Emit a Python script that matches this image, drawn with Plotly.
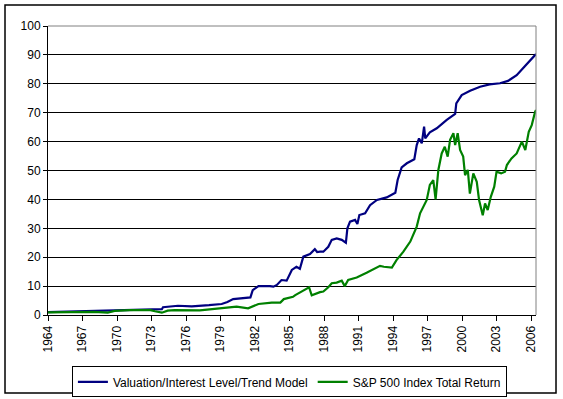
import plotly.graph_objects as go

model_years = [1964.0, 1965.0, 1966.3, 1967.5, 1969.0, 1970.0, 1971.0, 1971.5, 1973.0, 1973.9,
               1974.0, 1975.3, 1976.5, 1977.2, 1978.0, 1979.1, 1979.6, 1980.1, 1980.8, 1981.6,
               1981.8, 1982.3, 1983.3, 1983.6, 1983.9, 1984.3, 1984.75, 1985.2, 1985.6, 1985.9,
               1986.2, 1986.78, 1987.2, 1987.4, 1987.65, 1987.94, 1988.37, 1988.67, 1989.1, 1989.54,
               1989.9, 1990.03, 1990.26, 1990.7, 1990.9, 1991.07, 1991.57, 1992.0, 1992.6, 1993.45,
               1994.2, 1994.4, 1994.75, 1995.2, 1995.85, 1996.06, 1996.26, 1996.5, 1996.7, 1996.8,
               1997.2, 1997.8, 1998.67, 1999.4, 1999.5, 1999.97, 2000.7, 2001.57, 2002.4, 2003.3,
               2004.0, 2004.75, 2005.3, 2005.9, 2006.43]
model_values = [1.0, 1.1, 1.3, 1.4, 1.5, 1.7, 1.8, 2.0, 2.0, 2.0,
                2.7, 3.2, 3.0, 3.1, 3.4, 3.8, 4.5, 5.5, 5.8, 6.1,
                8.6, 10.0, 10.0, 9.8, 10.4, 12.1, 11.9, 15.6, 16.7, 16.0,
                20.2, 21.1, 22.8, 21.8, 21.9, 21.9, 23.6, 26.0, 26.5, 26.0,
                25.0, 30.0, 32.3, 32.9, 31.5, 34.6, 35.2, 38.0, 39.8, 40.7,
                42.3, 46.7, 51.1, 52.5, 53.9, 58.8, 61.1, 59.4, 65.2, 61.1,
                63.2, 64.6, 67.5, 69.6, 73.2, 76.1, 77.6, 79.0, 79.8, 80.2,
                81.0, 83.0, 85.4, 88.0, 90.3]

sp_years = [1964.0, 1966.0, 1968.0, 1969.2, 1969.8, 1971.1, 1972.9, 1973.3, 1973.9, 1974.4,
            1975.0, 1977.2, 1978.2, 1979.2, 1980.4, 1981.4, 1982.3, 1983.45, 1984.2, 1984.5,
            1985.3, 1985.5, 1986.06, 1986.7, 1986.93, 1987.2, 1987.65, 1987.94, 1988.37, 1988.67,
            1989.1, 1989.54, 1989.8, 1990.1, 1990.84, 1991.7, 1992.6, 1992.87, 1993.2, 1993.9,
            1994.3, 1994.9, 1995.5, 1995.9, 1996.06, 1996.35, 1996.64, 1996.93, 1997.2, 1997.5,
            1997.7, 1997.94, 1998.23, 1998.5, 1998.75, 1998.96, 1999.25, 1999.4, 1999.62, 1999.83,
            2000.1, 2000.26, 2000.5, 2000.68, 2000.98, 2001.28, 2001.48, 2001.7, 2001.8, 2002.0,
            2002.23, 2002.5, 2002.8, 2003.0, 2003.4, 2003.74, 2003.9, 2004.3, 2004.75, 2005.2,
            2005.5, 2005.8, 2006.06, 2006.35, 2006.43]
sp_values = [0.9, 1.0, 1.1, 0.8, 1.4, 1.7, 1.7, 1.3, 0.8, 1.5,
             1.7, 1.6, 2.0, 2.5, 2.9, 2.3, 3.8, 4.3, 4.3, 5.5,
             6.3, 6.9, 8.1, 9.6, 6.8, 7.3, 7.9, 8.1, 9.6, 11.0,
             11.2, 11.9, 10.0, 12.1, 13.0, 14.6, 16.4, 17.0, 16.7, 16.4,
             19.0, 21.9, 25.4, 29.4, 30.6, 35.2, 37.5, 39.8, 45.0, 46.7,
             40.0, 50.2, 55.9, 58.2, 54.8, 60.6, 62.9, 58.8, 62.9, 57.1,
             54.8, 48.4, 50.2, 42.0, 49.0, 46.1, 39.8, 35.8, 34.5, 38.6,
             36.3, 40.9, 44.4, 49.6, 49.0, 49.6, 51.9, 54.2, 55.9, 60.0,
             57.1, 63.4, 65.7, 70.3, 70.9]

FONT = "Arial, Liberation Sans, sans-serif"

fig = go.Figure()
fig.add_trace(go.Scatter(x=model_years, y=model_values, mode="lines",
                         name="Valuation/Interest Level/Trend Model",
                         line=dict(color="#000080", width=2.2)))
fig.add_trace(go.Scatter(x=sp_years, y=sp_values, mode="lines",
                         name="S&P 500 Index Total Return",
                         line=dict(color="#008000", width=2.2)))

fig.update_layout(
    width=563, height=399,
    margin=dict(l=48, r=27, t=26, b=84, autoexpand=False),
    paper_bgcolor="white", plot_bgcolor="white",
    font=dict(family=FONT, size=12, color="black"),
    showlegend=True,
    legend=dict(orientation="h", x=0.049, y=-0.178, xanchor="left", yanchor="top",
                bordercolor="black", borderwidth=1, bgcolor="white",
                font=dict(family=FONT, size=12, color="black")),
    xaxis=dict(range=[1964, 2006.43], tick0=1964, dtick=3, tickangle=-90,
               showgrid=False, zeroline=False, showline=True, linecolor="black",
               linewidth=1, ticks="outside", ticklen=5, tickcolor="black",
               automargin=False, fixedrange=True),
    yaxis=dict(range=[0, 100], dtick=10, showgrid=True, gridcolor="black",
               gridwidth=1, zeroline=False, showline=True, linecolor="black",
               linewidth=1, ticks="outside", ticklen=4, tickcolor="black",
               automargin=False, fixedrange=True),
    shapes=[
        dict(type="line", xref="paper", yref="paper", x0=0, x1=1, y0=1, y1=1,
             line=dict(color="#808080", width=1), layer="above"),
        dict(type="line", xref="paper", yref="paper", x0=1, x1=1, y0=0, y1=1,
             line=dict(color="#808080", width=1), layer="above"),
        dict(type="rect", xref="paper", yref="paper", x0=-0.0881, x1=1.041,
             y0=-0.2699, y1=1.0727, line=dict(color="black", width=1.5),
             fillcolor="rgba(0,0,0,0)", layer="below"),
    ],
)

fig.write_html(
    "out.html",
    config={"displayModeBar": False, "responsive": False},
    post_script="document.body.style.margin='0';document.body.style.padding='0';document.body.style.overflow='hidden';",
)
